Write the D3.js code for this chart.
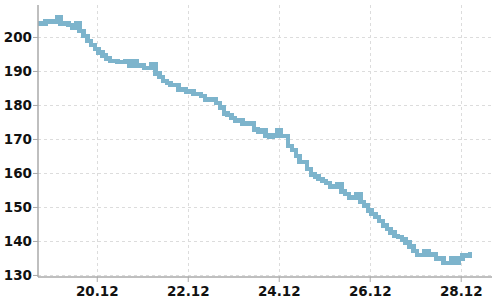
<!DOCTYPE html>
<html><head><meta charset="utf-8">
<script src="https://cdn.jsdelivr.net/npm/d3@7"></script>
<style>html,body{margin:0;padding:0;background:#fff;}</style>
</head><body>
<svg id="c" width="500" height="300"></svg>
<script>
const seriesStart = "2023-12-18T17:00:00Z";
const stepHours = 2;
const values = [
  204,204,204.6,204.6,204.6,205.8,204,204,203.5,202.6,
  204,201.8,200.3,198.8,197.7,196.5,195.4,194.5,193.6,193,
  193,192.6,192.6,193,191.5,192.8,191.5,191.8,190.8,190.8,
  192,189.2,188.2,187,186.5,185.8,185.8,184.6,184.6,184,
  184,183.2,183.2,182.6,181.6,181.6,181.6,180.6,179.2,177.5,
  177,176.2,175.5,175.5,174.5,174.5,174.5,172.8,172,172.6,
  171,170.6,171,172.5,170.8,170.8,168,166.8,165,163.2,
  163.2,161.2,159.5,159,158.2,157.6,157,156,155.8,156.8,
  154.5,153.8,152.8,152.8,153.8,151.5,150.5,149,148,147,
  145.8,144.5,143.5,142.5,141.5,141.2,140.4,139.5,138.3,137,
  135.8,135.8,137,136,136,134.8,134.8,133.5,133.5,134.8,
  133.5,134.8,135.7,135.7,136.8
];
const xTickDates = ["2023-12-20","2023-12-22","2023-12-24","2023-12-26","2023-12-28"];
const xTickLabels = ["20.12","22.12","24.12","26.12","28.12"];
const yTicks = [130,140,150,160,170,180,190,200];
const xDomain = ["2023-12-18T17:00:00Z","2023-12-28T16:30:00Z"];
const yDomain = [129.4, 209.4];

(function(){
const t0 = new Date(seriesStart);
const data = values.map((v,i)=>({t: d3.utcHour.offset(t0, i*stepHours), v}));

const mL=38, mR=492, mT=5, mB=277;
const svg = d3.select("#c");
const x = d3.scaleUtc().domain(xDomain.map(d=>new Date(d))).range([mL,mR]);
const y = d3.scaleLinear().domain(yDomain).range([mB,mT]);
const tickDates = xTickDates.map(d=>new Date(d+"T00:00:00Z"));

const g = svg.append("g");
g.selectAll(".hg").data(yTicks).join("line")
  .attr("x1",mL).attr("x2",mR)
  .attr("y1",d=>Math.round(y(d))+0.5).attr("y2",d=>Math.round(y(d))+0.5)
  .attr("stroke","#dcdcdc").attr("stroke-dasharray","3,3");
g.selectAll(".vg").data(tickDates).join("line")
  .attr("x1",d=>Math.round(x(d))+0.5).attr("x2",d=>Math.round(x(d))+0.5)
  .attr("y1",mT).attr("y2",mB)
  .attr("stroke","#dcdcdc").attr("stroke-dasharray","3,3");

const line = d3.line().x(d=>x(d.t)).y(d=>y(d.v)).curve(d3.curveStepAfter);
svg.append("path").datum(data).attr("d",line)
  .attr("fill","none").attr("stroke","#7db4cc").attr("stroke-width",4.5)
  .attr("shape-rendering","crispEdges");

const yAxis = d3.axisLeft(y).tickValues(yTicks).tickSize(5).tickPadding(1);
const xAxis = d3.axisBottom(x).tickValues(tickDates).tickSize(5).tickPadding(4)
  .tickFormat((d,i)=>xTickLabels[i]);
const ya = svg.append("g").attr("transform",`translate(${mL},0)`).call(yAxis);
const xa = svg.append("g").attr("transform",`translate(0,${mB})`).call(xAxis);
[ya,xa].forEach(a=>{
  a.select(".domain").attr("stroke","#aaa").attr("stroke-width",1.5);
  a.selectAll(".tick line").attr("stroke","#aaa");
  a.selectAll("text").attr("fill","#111").style("font-family","DejaVu Sans")
    .style("font-size","13.5px").style("font-weight","bold");
});
ya.select(".domain").attr("d",`M0,${mT}V${mB}`);
xa.select(".domain").attr("d",`M${mL},0H${mR}`);
})();
</script>
</body></html>
